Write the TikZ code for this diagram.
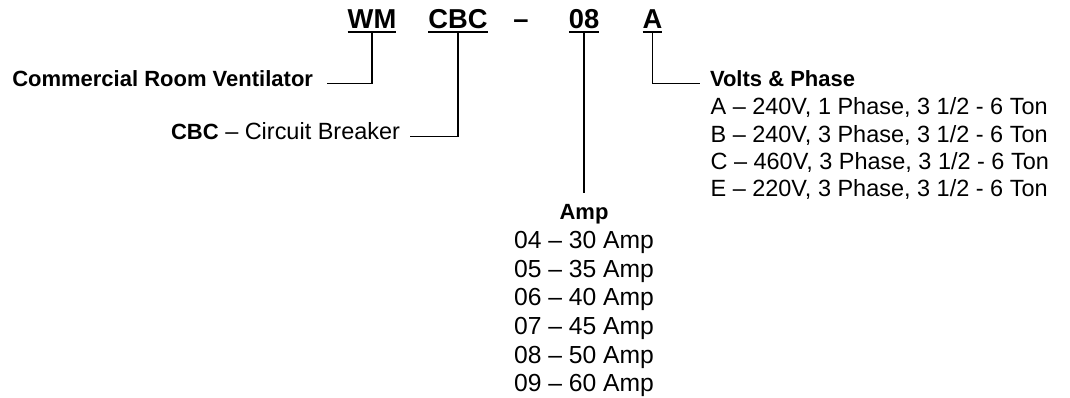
\documentclass[tikz,border=0pt]{standalone}
\usepackage{fontspec}
\setmainfont{Liberation Sans}
\usepackage{tikz}
\usetikzlibrary{positioning}

\begin{document}
\begin{tikzpicture}[
  x=0.75pt, y=-0.75pt,
  code/.style={anchor=base, inner xsep=0pt, inner ysep=2.25pt, outer sep=0pt,
               text depth=0pt, font=\fontsize{20.5}{24}\selectfont\bfseries},
  lbl/.style={inner sep=0pt, font=\fontsize{17.6}{20.6}\selectfont},
  head/.style={inner sep=0pt, font=\fontsize{16.5}{20}\selectfont\bfseries},
  line width=0.9pt
]
  \useasboundingbox (0,0) rectangle (1070,398);

  % model number
  \node[code] (wm)    at (372,29)   {WM};
  \node[code] (cbc)   at (458,29)   {CBC};
  \node[code] (dash)  at (521,29)   {–};
  \node[code] (amps)  at (584,29)   {08};
  \node[code] (phase) at (652.5,29) {A};
  \foreach \n in {wm,cbc,amps,phase}
    \draw (\n.south west) -- (\n.south east);

  % labels
  \node[head, anchor=base east, outer xsep=10.5pt] (room) at (327,87)
    {Commercial Room Ventilator};
  \node[lbl, anchor=base east, outer xsep=7.5pt] (brk) at (410,140)
    {{\fontsize{16.5}{20}\selectfont\bfseries CBC} – Circuit Breaker};
  \node[head, anchor=base west, outer xsep=7.5pt] (volts) at (700,87)
    {Volts \& Phase};
  \node[lbl, anchor=base west, align=left] (vlist) at (710,197)
    {A – 240V, 1 Phase, 3 1/2 - 6 Ton\\
     B – 240V, 3 Phase, 3 1/2 - 6 Ton\\
     C – 460V, 3 Phase, 3 1/2 - 6 Ton\\
     E – 220V, 3 Phase, 3 1/2 - 6 Ton};
  \node[lbl, anchor=base, outer ysep=9pt, align=center,
        font=\fontsize{18.5}{21.5}\selectfont] (amp) at (584,392)
    {{\fontsize{16.5}{20}\selectfont\bfseries Amp}\\
     04 – 30 Amp\\
     05 – 35 Amp\\
     06 – 40 Amp\\
     07 – 45 Amp\\
     08 – 50 Amp\\
     09 – 60 Amp};

  \draw (wm.south) |- (room.mid east);
  \draw (cbc.south) |- (brk.mid east);
  \draw (amps.south) -- (amp.north);
  \draw (phase.south) |- (volts.mid west);
\end{tikzpicture}
\end{document}
